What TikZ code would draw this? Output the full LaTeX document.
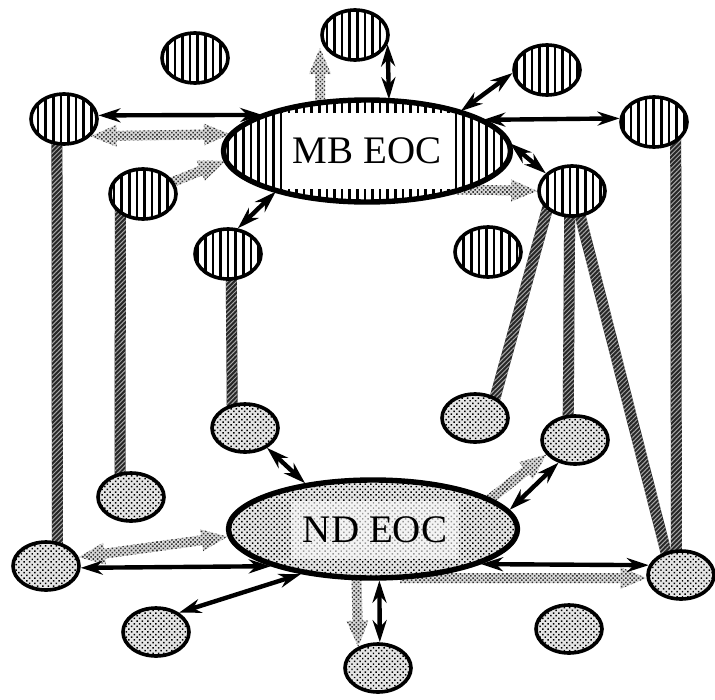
\documentclass[tikz,border=0pt]{standalone}
\usepackage{fontspec}
\setmainfont{Liberation Serif}
\usetikzlibrary{shapes.geometric,arrows.meta,patterns.meta,calc}
\pgfdeclarelayer{bg}
\pgfsetlayers{bg,main}

\tikzset{
  subell/.style={ellipse, draw, inner sep=0pt, line width=3.6pt,
    minimum width=66pt, minimum height=50pt, preaction={fill=white}},
  stripeell/.style={subell, pattern={Lines[angle=90,distance=7.6pt,line width=2.6pt]}},
  dotell/.style={subell, minimum height=48pt, preaction={fill=black!10},
    pattern={Dots[angle=45,distance=3.8pt,radius=1.05pt]}, pattern color=black},
  bigell/.style={ellipse, draw, inner sep=0pt, line width=5.4pt, preaction={fill=white}},
  lbl/.style={inner sep=0pt, font=\fontsize{39}{41}\selectfont},
  link/.style={line width=4.4pt, arrows={Stealth[length=22pt,width=14pt]-Stealth[length=22pt,width=14pt]}},
  flow/.style={preaction={fill=black!14}, pattern={Dots[angle=45,distance=3pt,radius=1.1pt]}, pattern color=black!80},
  ropestyle/.style={preaction={fill=black!85},
    pattern={Lines[angle=45,distance=3.2pt,line width=1pt]}, pattern color=white!65!black}
}

\newcommand\flowboth[2]{%
  \coordinate (fa1) at ($(#1)!26pt!(#2)$);
  \coordinate (fa2) at ($(#2)!26pt!(#1)$);
  \path[flow] (#1) -- ($(fa1)!11pt!90:(#2)$) -- ($(fa1)!5pt!90:(#2)$)
    -- ($(fa2)!5pt!-90:(#1)$) -- ($(fa2)!11pt!-90:(#1)$) -- (#2)
    -- ($(fa2)!11pt!90:(#1)$) -- ($(fa2)!5pt!90:(#1)$)
    -- ($(fa1)!5pt!-90:(#2)$) -- ($(fa1)!11pt!-90:(#2)$) -- cycle;}
\newcommand\flowto[2]{%
  \coordinate (fa2) at ($(#2)!26pt!(#1)$);
  \path[flow] ($(#1)!5pt!90:(#2)$) -- ($(fa2)!5pt!-90:(#1)$)
    -- ($(fa2)!11pt!-90:(#1)$) -- (#2) -- ($(fa2)!11pt!90:(#1)$)
    -- ($(fa2)!5pt!90:(#1)$) -- ($(#1)!5pt!-90:(#2)$) -- cycle;}
\newcommand\rope[2]{%
  \coordinate (ra) at ($(#1)!-8pt!(#2)$);
  \coordinate (rb) at ($(#2)!-8pt!(#1)$);
  \path[ropestyle] ($(ra)!5.5pt!90:(rb)$) -- ($(rb)!5.5pt!-90:(ra)$)
    -- ($(rb)!5.5pt!90:(ra)$) -- ($(ra)!5.5pt!-90:(rb)$) -- cycle;}

\begin{document}
\begin{tikzpicture}[x=1pt,y=-1pt]
\useasboundingbox (0,0) rectangle (715,699);

% big ellipses
\node[bigell, minimum width=287pt, minimum height=102pt,
  pattern={Lines[angle=90,distance=7.6pt,line width=2.6pt]}] (mb) at (367,151) {};
\node[lbl, fill=white, minimum width=170pt, minimum height=76pt] (mbl) at (367,151) {MB EOC};
\node[bigell, minimum width=289pt, minimum height=98pt, preaction={fill=black!10},
  pattern={Dots[angle=45,distance=3.8pt,radius=1.05pt]}, pattern color=black] (nd) at (373,529) {};
\node[lbl, fill=white, fill opacity=0.6, text opacity=1, minimum width=168pt, minimum height=58pt] (ndl) at (375,530) {ND EOC};

% striped subordinate ellipses
\node[stripeell] (stl)  at (64,119) {};
\node[stripeell] (s1)   at (195,58) {};
\node[stripeell] (stop) at (355,35) {};
\node[stripeell] (str1) at (547,70) {};
\node[stripeell] (sr)   at (654,122) {};
\node[stripeell] (sr2)  at (572,191) {};
\node[stripeell] (sl2)  at (143,194) {};
\node[stripeell] (smid) at (228,254) {};
\node[stripeell] (srm)  at (488,252) {};

% dotted subordinate ellipses
\node[dotell] (d1) at (245,428) {};
\node[dotell] (d2) at (475,418) {};
\node[dotell] (d3) at (575,440) {};
\node[dotell] (d4) at (131,497) {};
\node[dotell] (d5) at (46,566) {};
\node[dotell] (d6) at (156,632) {};
\node[dotell] (d7) at (378,668) {};
\node[dotell] (d8) at (569,629) {};
\node[dotell] (d9) at (681,575) {};

% free ends of the shaded flows
\coordinate (g3a) at (320,126);
\coordinate (g3b) at (320,48);
\coordinate (g4a) at (430,189);
\coordinate (g5a) at (470,515);
\coordinate (g6a) at (400,578);
\coordinate (g7a) at (356,560);

\begin{pgfonlayer}{bg}
  % ropes
  \rope{stl.-105}{d5.65}
  \rope{sl2.-138}{d4.114}
  \rope{smid.-83}{d1.118}
  \rope{sr2.217}{d2.46}
  \rope{sr2.-95}{d3.105}
  \rope{sr2.-72}{d9.123}
  \rope{sr.-44}{d9.100}
  % shaded flows
  \flowboth{stl.-33}{mb.173}
  \flowboth{sl2.center}{mb.184}
  \flowto{g3a}{g3b}
  \flowto{g4a}{sr2.180}
  \flowto{g5a}{d3.207}
  \flowto{g6a}{d9.185}
  \flowto{g7a}{d7.133}
  \flowboth{d5.15}{nd.183}
\end{pgfonlayer}

% black double arrows
\draw[link] (stl.6) -- (mb.161);
\draw[link] (stop.-16) -- (mb.67);
\draw[link] (str1.185) -- (mb.23);
\draw[link] (sr.174) -- (mb.15);
\draw[link] (sr2.146) -- (mb.3);
\draw[link] (smid.69) -- (mb.204);
\draw[link] (d1.-42) -- (nd.146);
\draw[link] (d3.234) -- (nd.8);
\draw[link] (d5.357) -- (nd.200);
\draw[link] (d6.40) -- (nd.212);
\draw[link] (d7.86) -- (nd.277);
\draw[link] (d9.163) -- (nd.342);
\end{tikzpicture}
\end{document}
